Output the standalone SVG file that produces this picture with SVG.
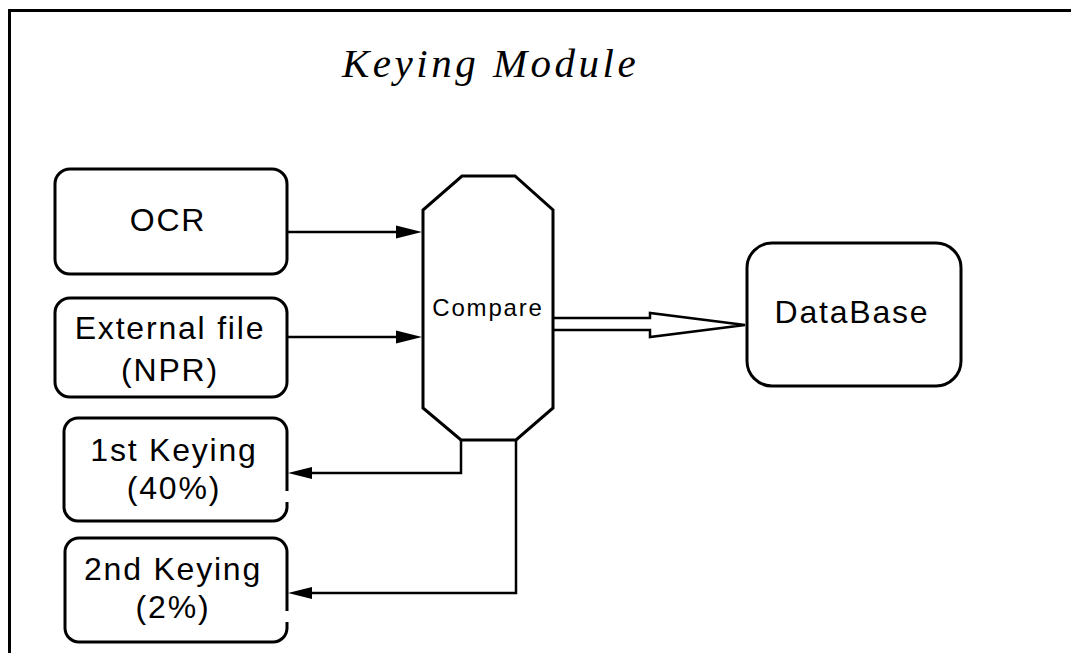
<svg xmlns="http://www.w3.org/2000/svg" width="1071" height="653" viewBox="0 0 1071 653">
  <style>
    .box { fill: #fff; stroke: #000; stroke-width: 3; }
    .lbl { font-family: "Liberation Sans", Arial, sans-serif; font-size: 32px; letter-spacing: 1.8px; fill: #000; text-anchor: middle; }
    .small { font-size: 24px; letter-spacing: 1.8px; }
    .title { font-family: "Liberation Serif", "Times New Roman", serif; font-style: italic; font-size: 41px; letter-spacing: 3.5px; fill: #000; }
    .wire { fill: none; stroke: #000; stroke-width: 2.5; }
    .head { fill: #000; stroke: none; }
  </style>

  <rect width="1071" height="653" fill="#fff"/>

  <!-- outer frame (top and left edges) -->
  <path d="M9.5,653 V10.5 H1071" fill="none" stroke="#000" stroke-width="3"/>

  <text class="title" x="342" y="77">Keying Module</text>

  <g id="ocr">
    <rect class="box" x="55" y="169" width="232" height="105" rx="15"/>
    <text class="lbl" x="168" y="231">OCR</text>
  </g>

  <g id="external-file">
    <rect class="box" x="55" y="298" width="232" height="99" rx="15"/>
    <text class="lbl" x="170" y="339">External file</text>
    <text class="lbl" x="170" y="381">(NPR)</text>
  </g>

  <g id="first-keying">
    <path class="box" d="M287,491 V432 A14,14 0 0 0 273,418 H78 A14,14 0 0 0 64,432 V507 A14,14 0 0 0 78,521 H273 A14,14 0 0 0 287,507 V502"/>
    <text class="lbl" x="174" y="461">1st Keying</text>
    <text class="lbl" x="174" y="499">(40%)</text>
  </g>

  <g id="second-keying">
    <path class="box" d="M287,611 V552 A14,14 0 0 0 273,538 H79 A14,14 0 0 0 65,552 V628 A14,14 0 0 0 79,642 H273 A14,14 0 0 0 287,628 V622"/>
    <text class="lbl" x="173" y="580">2nd Keying</text>
    <text class="lbl" x="173" y="618">(2%)</text>
  </g>

  <g id="compare">
    <polygon class="box" points="462,176 515,176 553,210 553,408 516,440 461,440 423,408 423,210"/>
    <text class="lbl small" x="488" y="316">Compare</text>
  </g>

  <g id="database">
    <rect class="box" x="747" y="243" width="214" height="143" rx="25"/>
    <text class="lbl" x="852" y="323">DataBase</text>
  </g>

  <g id="connectors">
    <!-- inputs into Compare -->
    <line class="wire" x1="287" y1="232" x2="400" y2="232"/>
    <polygon class="head" points="422,232 396,225.5 396,238.5"/>
    <line class="wire" x1="287" y1="337" x2="400" y2="337"/>
    <polygon class="head" points="422,337 396,330.5 396,343.5"/>

    <!-- hollow double-line arrow to DataBase -->
    <path class="wire" d="M553,318 H650 V313 L745,325 L650,337 V330 H553"/>

    <!-- outputs to the keying stages -->
    <path class="wire" d="M461,440 V473 H310"/>
    <polygon class="head" points="288,473 312,467 312,479"/>
    <path class="wire" d="M516,440 V593 H310"/>
    <polygon class="head" points="288,593 312,587 312,599"/>
  </g>
</svg>
